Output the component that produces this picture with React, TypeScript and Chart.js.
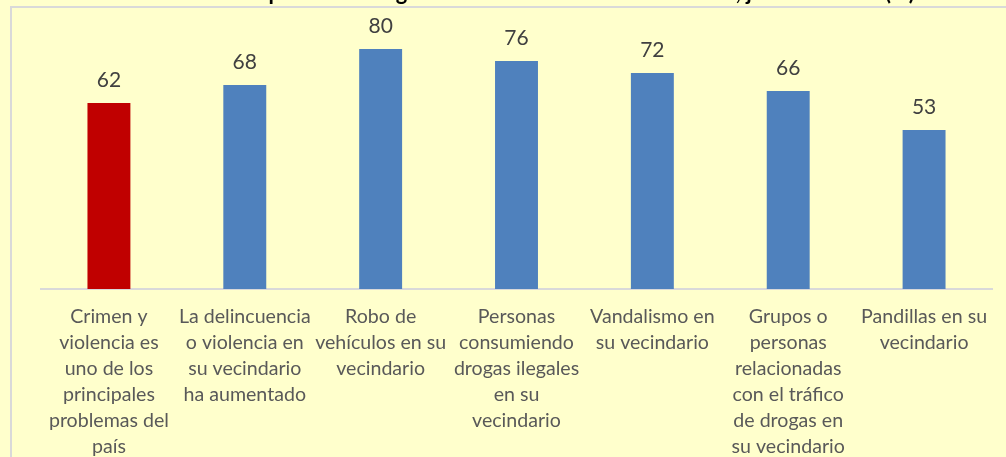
import React, { useEffect, useRef } from "react";
import { Chart, registerables } from "chart.js";

Chart.register(...registerables);

const categories: string[][] = [
  ["Crimen y", "violencia es", "uno de los", "principales", "problemas del", "país"],
  ["La delincuencia", "o violencia en", "su vecindario", "ha aumentado"],
  ["Robo de", "vehículos en su", "vecindario"],
  ["Personas", "consumiendo", "drogas ilegales", "en su", "vecindario"],
  ["Vandalismo en", "su vecindario"],
  ["Grupos o", "personas", "relacionadas", "con el tráfico", "de drogas en", "su vecindario"],
  ["Pandillas en su", "vecindario"],
];
const values: number[] = [62, 68, 80, 76, 72, 66, 53];
const barColors: string[] = ["#C00000", "#4F81BD", "#4F81BD", "#4F81BD", "#4F81BD", "#4F81BD", "#4F81BD"];
const titleText = "Gráfico 1. Percepción de inseguridad ciudadana en su vecindario, junio de 2019 (%)";

const BG = "#FFFFCC";

const framePlugin = {
  id: "frame",
  beforeDraw(chart: any) {
    const ctx = chart.ctx;
    ctx.save();
    ctx.fillStyle = BG;
    ctx.fillRect(0, 0, chart.width, chart.height);
    ctx.strokeStyle = "#D9D9D9";
    ctx.lineWidth = 2;
    ctx.strokeRect(11, 7, chart.width + 50, chart.height + 50);
    // title (clipped at top like in the reference)
    let size = 20;
    ctx.font = `bold ${size}px Lato`;
    const w = ctx.measureText(titleText).width;
    size = size * (800 / w);
    ctx.font = `bold ${size}px Lato`;
    ctx.fillStyle = "#000000";
    ctx.textAlign = "center";
    ctx.textBaseline = "alphabetic";
    ctx.fillText(titleText, 515, -0.5);
    ctx.restore();
  },
};

const labelPlugin = {
  id: "valueLabels",
  afterDatasetsDraw(chart: any) {
    const ctx = chart.ctx;
    const meta = chart.getDatasetMeta(0);
    ctx.save();
    ctx.font = "21px Lato";
    ctx.fillStyle = "#404040";
    ctx.textAlign = "center";
    ctx.textBaseline = "alphabetic";
    meta.data.forEach((bar: any, i: number) => {
      ctx.fillText(String(values[i]), bar.x, bar.y - 16);
    });
    ctx.restore();
  },
};

export default function App() {
  const ref = useRef<HTMLCanvasElement | null>(null);
  useEffect(() => {
    if (!ref.current) return;
    const chart = new Chart(ref.current, {
      type: "bar",
      data: {
        labels: categories,
        datasets: [
          {
            data: values,
            backgroundColor: barColors,
            borderWidth: 0,
            barPercentage: 0.316,
            categoryPercentage: 1,
          },
        ],
      },
      options: {
        animation: false,
        responsive: false,
        maintainAspectRatio: false,
        layout: { padding: { left: 41, right: 14, top: 19, bottom: 0 } },
        plugins: {
          legend: { display: false },
          tooltip: { enabled: false },
          title: { display: false },
        },
        scales: {
          x: {
            grid: { display: false, drawTicks: false },
            border: { display: true, color: "#D9D9D9", width: 2 },
            ticks: {
              color: "#595959",
              font: { family: "Lato", size: 19.6, lineHeight: 26 / 19.6 },
              padding: 15,
              maxRotation: 0,
              autoSkip: false,
            },
            afterFit: (scale: any) => {
              scale.height = 168;
            },
          },
          y: {
            display: false,
            min: 0,
            max: 90,
          },
        },
      },
      plugins: [framePlugin, labelPlugin],
    });
    return () => chart.destroy();
  }, []);
  return (
    <div style={{ position: "fixed", left: 0, top: 0, width: 1006, height: 457, background: BG }}>
      <canvas ref={ref} width={1006} height={457} style={{ display: "block" }} />
    </div>
  );
}
